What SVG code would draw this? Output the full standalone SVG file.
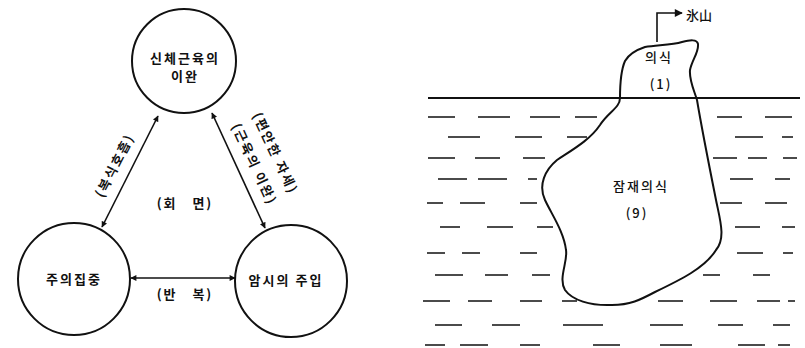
<svg xmlns="http://www.w3.org/2000/svg" width="805" height="348" viewBox="0 0 805 348">
<style>
  .node { fill: #fff; stroke: #111; stroke-width: 2; }
  .conn { stroke: #111; stroke-width: 1.6; fill: none; }
  .t { font-family: "Noto Sans CJK KR", "Noto Sans", sans-serif; font-size: 13px; font-weight: 700; fill: #111; letter-spacing: 2px; }
  .t2 { font-family: "Noto Sans CJK KR", "Noto Sans", sans-serif; font-size: 13px; font-weight: 500; fill: #111; letter-spacing: 2px; }
  .dash { stroke: #111; stroke-width: 1.5; }
  .berg { fill: #fff; stroke: #111; stroke-width: 2; stroke-linejoin: round; }
</style>
<defs>
  <marker id="ah" viewBox="0 0 10 10" refX="9" refY="5" markerWidth="7" markerHeight="6" markerUnits="userSpaceOnUse" orient="auto-start-reverse">
    <path d="M0,0 L10,5 L0,10 Z" fill="#111"/>
  </marker>
  <marker id="ah2" viewBox="0 0 10 10" refX="9" refY="5" markerWidth="9" markerHeight="8" markerUnits="userSpaceOnUse" orient="auto">
    <path d="M0,0 L10,5 L0,10 Z" fill="#111"/>
  </marker>
</defs>

<!-- Left: triangle of circles -->
<g id="connectors">
  <line class="conn" x1="102" y1="227" x2="158" y2="116" marker-start="url(#ah)" marker-end="url(#ah)"/>
  <line class="conn" x1="212" y1="113" x2="265" y2="228" marker-start="url(#ah)" marker-end="url(#ah)"/>
  <line class="conn" x1="131" y1="278" x2="235" y2="278" marker-start="url(#ah)" marker-end="url(#ah)"/>
  <text class="t" x="114" y="165" text-anchor="middle" dominant-baseline="central" transform="rotate(-63 114 165)">(복식호흡)</text>
  <text class="t" x="276" y="153" text-anchor="middle" dominant-baseline="central" transform="rotate(65 276 153)">(편안한 자세)</text>
  <text class="t" x="255" y="164" text-anchor="middle" dominant-baseline="central" transform="rotate(65 255 164)">(근육의 이완)</text>
  <text class="t" x="185" y="293" text-anchor="middle" dominant-baseline="central" xml:space="preserve">(반   복)</text>
</g>

<g id="node-top">
  <circle class="node" cx="184" cy="61" r="52"/>
  <text class="t" x="185" y="57" text-anchor="middle" dominant-baseline="central">신체근육의</text>
  <text class="t" x="185" y="75" text-anchor="middle" dominant-baseline="central">이완</text>
</g>
<g id="node-left">
  <circle class="node" cx="74" cy="279" r="56"/>
  <text class="t" x="74" y="278" text-anchor="middle" dominant-baseline="central">주의집중</text>
</g>
<g id="node-right">
  <circle class="node" cx="291" cy="281" r="56"/>
  <text class="t" x="286" y="279" text-anchor="middle" dominant-baseline="central">암시의 주입</text>
</g>
<g id="center-label">
  <text class="t" x="185" y="202" text-anchor="middle" dominant-baseline="central" xml:space="preserve">(회   면)</text>
</g>

<!-- Right: iceberg -->
<g id="water">
  <g class="dash">
    <path d="M428,117h27M478,117h32M530,117h30M575,117h22M717,117h25M765,117h27"/>
    <path d="M448,137h32M515,137h27M567,137h20M735,137h28M782,137h11"/>
    <path d="M428,158h27M475,158h25M523,158h22M713,158h24M748,158h19M783,158h14"/>
    <path d="M438,179h29M478,179h29M528,179h9M730,179h23M775,179h15"/>
    <path d="M427,203h16M460,203h25M520,203h17M720,203h22M765,203h22"/>
    <path d="M440,227h20M487,227h26M537,227h16M735,227h25M782,227h13"/>
    <path d="M427,253h18M462,253h18M520,253h17M737,253h26M783,253h10"/>
    <path d="M435,275h28M485,275h23M532,275h18M703,275h17M753,275h17"/>
    <path d="M423,301h27M468,301h24M520,301h22M562,301h15M658,301h25M710,301h27M757,301h23M788,301h7"/>
    <path d="M435,325h27M492,325h28M563,325h40M650,325h33M718,325h25M773,325h17"/>
    <path d="M425,345h20M460,345h28M520,345h20M593,345h27M660,345h32M738,345h27M778,345h12"/>
  </g>
</g>
<g id="iceberg">
  <path class="berg" d="M620,98 C620,85 621,70 625,61 C629,54 636,50 645,47 C658,45 672,45 682,42 C690,40 697,39 698,44 C699,52 692,60 690,70 C689,80 694,90 697,100 C702,130 710,170 716,200 C720,220 726,238 716,250 C705,268 680,280 655,292 C640,300 630,305 612,305 C590,306 572,300 565,290 C558,278 568,262 566,250 C564,232 552,215 545,200 C538,185 545,170 557,160 C572,150 590,140 600,125 C608,112 620,108 620,98 Z"/>
  <text class="t2" x="659" y="56" text-anchor="middle" dominant-baseline="central">의식</text>
  <text class="t2" x="661" y="83" text-anchor="middle" dominant-baseline="central">(1)</text>
  <text class="t2" x="641" y="185" text-anchor="middle" dominant-baseline="central">잠재의식</text>
  <text class="t2" x="637" y="212" text-anchor="middle" dominant-baseline="central">(9)</text>
</g>
<g id="waterline">
  <line x1="428" y1="98" x2="800" y2="98" stroke="#111" stroke-width="1.8"/>
</g>
<g id="iceberg-label">
  <path class="conn" d="M657,42 V13 H682" marker-end="url(#ah2)"/>
  <text class="t2" x="686" y="14" dominant-baseline="central" style="font-family:'Noto Sans CJK JP','Noto Sans CJK SC',sans-serif;letter-spacing:0">氷山</text>
</g>
</svg>
